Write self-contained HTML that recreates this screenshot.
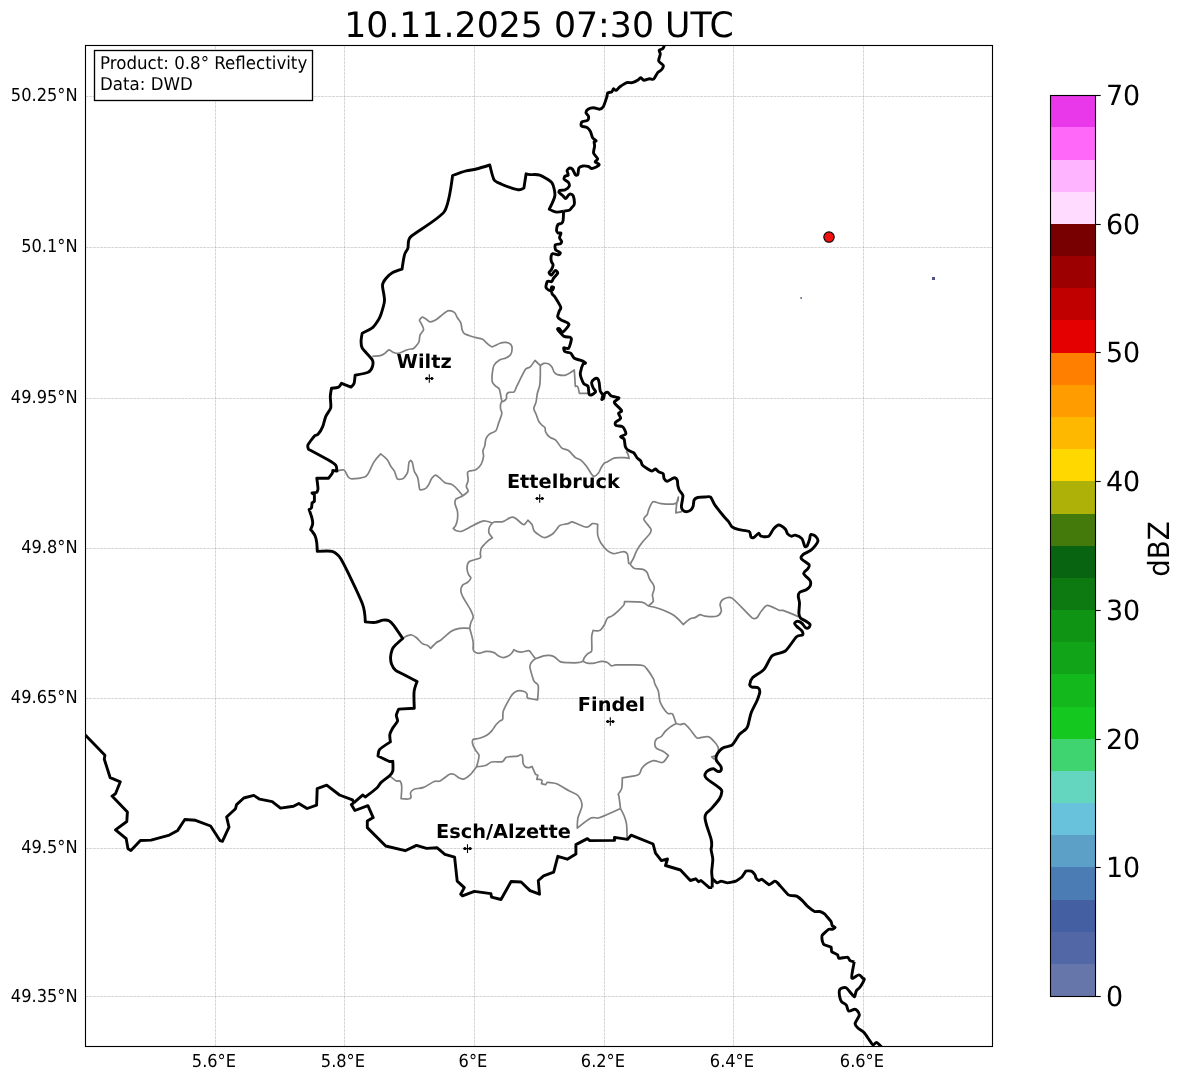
<!DOCTYPE html>
<html lang="en"><head><meta charset="utf-8"><title>10.11.2025 07:30 UTC - 0.8° Reflectivity</title>
<style>html,body{margin:0;padding:0;background:#fff}svg{display:block;will-change:transform}text{font-family:"DejaVu Sans","Liberation Sans",sans-serif;fill:#000;text-rendering:geometricPrecision}.tt{font-size:34.72px}.tk{font-size:16.67px}.cb{font-size:27.78px}.ct{font-size:19.44px;font-weight:bold}</style></head><body>
<svg width="1184" height="1081" viewBox="0 0 1184 1081">
<rect width="1184" height="1081" fill="#fff"/>
<defs><clipPath id="ax"><rect x="85.5" y="45.5" width="907.0" height="1001.0"/></clipPath></defs>
<g stroke="#808080" stroke-opacity="0.47" stroke-width="0.7" stroke-dasharray="2.88,0.8" fill="none">
<line x1="215.5" y1="1046.5" x2="215.5" y2="45.5"/>
<line x1="344.5" y1="1046.5" x2="344.5" y2="45.5"/>
<line x1="474.5" y1="1046.5" x2="474.5" y2="45.5"/>
<line x1="604.5" y1="1046.5" x2="604.5" y2="45.5"/>
<line x1="733.5" y1="1046.5" x2="733.5" y2="45.5"/>
<line x1="863.5" y1="1046.5" x2="863.5" y2="45.5"/>
<line x1="85.5" y1="96.5" x2="992.5" y2="96.5"/>
<line x1="85.5" y1="247.5" x2="992.5" y2="247.5"/>
<line x1="85.5" y1="398.5" x2="992.5" y2="398.5"/>
<line x1="85.5" y1="548.5" x2="992.5" y2="548.5"/>
<line x1="85.5" y1="698.5" x2="992.5" y2="698.5"/>
<line x1="85.5" y1="848.5" x2="992.5" y2="848.5"/>
<line x1="85.5" y1="996.5" x2="992.5" y2="996.5"/>
</g>
<g clip-path="url(#ax)" fill="none" stroke-linejoin="round" stroke-linecap="butt">
<path d="M372.3,356.3 C372.3,356.3 378.1,356.1 380.0,355.7 C381.9,355.3 383.3,354.3 384.7,353.4 C386.1,352.5 387.9,349.9 388.9,349.8 C389.9,349.7 391.5,351.6 393.0,352.2 C394.5,352.8 396.3,353.7 398.4,353.4 C400.5,353.1 404.9,350.6 407.3,349.8 C409.6,349.1 412.0,349.0 413.2,348.6 C414.2,348.2 414.6,347.6 415.3,346.8 C416.2,345.8 418.2,343.8 418.9,342.0 C419.6,340.2 419.4,336.8 420.1,334.9 C420.8,333.0 423.4,331.1 423.6,329.6 C423.8,328.1 422.0,325.2 421.3,323.7 C420.7,322.2 419.4,320.9 419.5,320.1 C419.6,319.3 421.6,317.3 422.4,317.2 C423.2,317.1 424.8,318.2 426.0,319.0 C427.2,319.8 428.9,321.8 430.1,321.9 C431.3,322.0 433.9,321.0 435.5,320.1 C437.1,319.2 438.8,317.5 440.8,316.0 C442.8,314.5 446.1,311.4 447.9,310.9 C449.7,310.4 453.1,311.5 454.4,312.4 C455.7,313.3 456.3,316.0 457.4,317.8 C458.5,319.6 460.2,321.3 460.9,323.1 C461.6,324.9 461.5,328.0 462.1,329.6 C462.7,331.2 462.9,332.8 464.5,333.8 C466.2,334.9 471.7,336.4 474.6,337.3 C477.5,338.2 480.2,338.0 482.2,339.1 C484.2,340.2 486.6,343.2 488.2,344.4 C489.7,345.6 490.8,347.0 492.3,346.8 C493.8,346.6 497.9,343.9 500.0,343.2 C502.1,342.5 504.3,342.2 505.9,342.4 C507.5,342.6 509.9,343.6 510.7,344.4 C511.5,345.2 512.1,347.1 512.1,348.6 C512.1,350.1 511.6,353.2 510.7,354.5 C509.8,355.8 507.5,357.2 505.9,358.0 C504.3,358.8 501.8,358.7 500.0,359.8 C498.2,360.9 495.2,363.2 494.1,365.1 C493.0,367.0 492.6,370.8 492.3,373.4 C492.0,376.0 491.9,379.9 492.3,381.7 C492.7,383.5 494.2,384.7 495.3,385.9 C496.4,387.1 498.6,387.6 499.4,389.4 C500.2,391.2 500.8,396.3 501.2,398.3 C501.4,399.5 501.9,400.4 501.8,401.3 C501.7,402.2 500.8,403.0 500.6,404.2 C500.4,405.4 500.4,407.5 500.6,409.0 C500.8,410.5 502.1,411.8 501.8,413.7 C501.5,415.8 499.5,420.6 498.5,423.4 C497.5,426.2 497.2,429.2 495.9,430.7 C494.6,432.2 490.9,433.0 489.4,434.2 C487.9,435.4 486.6,437.2 485.9,439.0 C485.2,440.8 485.2,444.2 484.7,446.1 C484.2,448.0 483.1,449.2 482.9,450.8 C482.7,452.4 483.8,454.6 483.5,456.7 C483.2,458.8 482.2,462.5 481.1,464.4 C480.0,466.3 477.4,468.8 475.8,469.7 C474.2,470.6 471.1,470.5 469.9,470.9 C468.8,471.3 467.7,471.5 467.5,472.7 C467.3,473.9 468.3,478.3 468.1,480.4 C467.9,482.5 466.3,484.8 466.3,486.3 C466.3,487.8 468.5,490.0 468.1,491.1 C467.7,492.2 464.2,494.8 462.8,495.8 C461.5,496.7 460.4,497.0 459.2,497.6 C458.0,498.2 456.2,498.6 455.7,499.4 C455.2,500.2 454.8,502.3 455.1,504.1 C455.4,505.9 457.0,508.8 457.4,511.2 C457.8,513.6 457.7,517.3 457.4,519.5 C457.1,521.7 456.3,524.1 455.7,525.4 C455.1,526.7 453.3,528.4 453.3,528.4 C453.3,528.4 455.1,530.3 456.3,530.7 C457.5,531.1 459.5,531.9 461.6,531.3 C463.7,530.7 468.0,528.2 471.1,526.6 C474.2,525.0 478.3,522.8 480.5,521.9 C482.3,521.2 483.5,520.8 485.3,521.0 C487.1,521.2 492.4,523.0 492.4,523.0" stroke="#808080" stroke-width="1.7"/>
<path d="M501.8,401.3 C501.8,401.3 503.0,401.7 503.6,401.3 C504.2,400.9 506.1,399.2 506.5,398.3 C506.9,397.4 506.2,395.6 506.5,394.8 C506.8,394.0 507.8,392.8 508.9,392.4 C510.0,392.0 513.2,392.6 514.2,391.8 C515.2,391.0 515.6,388.6 516.6,386.5 C518.5,382.8 523.6,372.1 525.5,369.3 C526.7,367.6 528.8,368.2 530.2,366.9 C531.6,365.6 535.0,360.4 535.0,360.4 C535.0,360.4 539.2,364.7 540.3,365.1 C541.4,365.5 542.6,363.6 543.8,363.4 C545.0,363.2 547.7,363.4 548.8,363.9 C549.9,364.4 551.0,365.7 551.9,367.0 C552.8,368.3 553.6,371.5 554.4,372.6 C555.2,373.7 556.1,374.3 557.5,374.6 C559.1,375.0 563.2,375.8 565.6,375.1 C568.0,374.4 574.3,370.0 574.3,370.0 L575.3,386.3 C575.3,386.3 577.3,385.9 577.8,386.8 C578.3,387.7 579.4,393.4 579.4,393.4 L588.5,393.4" stroke="#808080" stroke-width="1.7"/>
<path d="M540.3,365.1 C540.3,365.1 540.4,372.5 540.3,375.8 C540.2,379.1 540.2,382.5 539.7,385.3 C539.2,388.1 537.9,390.9 537.3,393.6 C536.7,396.3 536.7,399.5 536.1,401.9 C535.5,404.3 533.8,406.7 533.8,408.4 C533.8,410.1 535.3,412.2 536.1,414.3 C536.9,416.4 537.7,419.2 538.5,420.8 C539.3,422.4 540.5,423.6 541.5,424.7 C542.5,425.8 544.4,426.7 545.0,427.7 C545.6,428.7 544.9,430.4 545.6,431.8 C546.3,433.2 548.2,436.0 549.7,437.2 C551.2,438.4 553.9,438.5 555.7,440.1 C557.5,441.7 559.8,446.3 561.6,447.8 C563.4,449.3 566.5,449.2 568.1,450.2 C569.7,451.2 570.9,453.0 572.2,454.3 C573.5,455.6 574.4,457.0 575.8,457.9 C577.2,458.8 579.5,459.0 581.1,460.3 C582.7,461.6 584.8,463.9 586.5,466.2 C588.2,468.5 590.6,473.0 591.8,474.5 C592.5,475.5 593.4,476.4 594.2,476.3 C595.0,476.2 597.2,474.6 598.3,473.3 C599.4,472.0 600.3,469.0 601.3,467.4 C602.3,465.8 603.4,464.0 604.2,463.2 C605.0,462.4 606.0,462.5 607.1,461.9 C608.9,461.0 612.3,458.5 614.9,457.9 C617.5,457.3 622.1,457.6 624.4,457.7 C626.3,457.8 629.1,458.5 629.1,458.5 C629.1,458.5 628.4,454.9 627.9,453.8 C627.4,452.7 626.1,451.4 626.1,451.4" stroke="#808080" stroke-width="1.7"/>
<path d="M336.9,471.1 C336.9,471.1 342.6,469.4 344.0,470.1 C345.4,470.8 347.1,475.7 348.2,477.0 C349.2,478.2 350.1,478.8 351.7,478.8 C354.1,478.8 362.3,477.8 364.7,477.0 C366.6,476.4 367.2,475.1 368.3,473.4 C369.8,471.0 372.2,464.7 374.2,461.6 C376.2,458.5 380.7,453.9 380.7,453.9 C380.7,453.9 385.8,457.9 387.3,459.8 C388.8,461.7 389.7,464.5 390.8,466.3 C391.9,468.1 393.4,469.2 394.4,471.1 C395.4,473.0 396.3,477.9 397.3,478.8 C398.3,479.7 401.7,479.1 402.7,478.8 C403.7,478.5 404.0,477.8 404.7,476.9 C405.5,475.8 407.1,474.2 407.7,472.1 C408.3,470.0 408.5,464.3 408.9,462.6 C409.2,461.5 410.7,460.3 410.7,460.3 C410.7,460.3 412.0,461.5 412.4,462.6 C412.9,464.2 413.4,468.5 414.2,470.9 C415.0,473.3 417.0,475.2 417.8,478.0 C418.6,480.8 419.0,487.1 419.5,488.7 C419.7,489.5 420.4,490.0 421.3,489.9 C422.2,489.8 425.0,488.9 426.1,488.1 C427.2,487.3 428.1,485.6 429.0,484.0 C429.9,482.4 431.0,479.3 432.0,478.0 C433.0,476.7 434.7,475.2 435.5,475.1 C436.3,475.0 437.8,476.3 439.1,477.4 C440.6,478.6 443.3,481.8 445.0,482.8 C446.7,483.8 449.3,483.3 450.9,484.0 C452.5,484.7 454.0,485.8 455.7,487.5 C457.6,489.4 462.8,495.8 462.8,495.8" stroke="#808080" stroke-width="1.7"/>
<path d="M492.4,523.0 C492.4,523.0 493.8,522.0 494.8,521.9 C496.4,521.7 501.1,522.0 503.0,521.6 C504.9,521.2 506.4,519.6 507.8,518.9 C509.2,518.2 510.8,517.2 511.9,517.1 C513.0,517.0 514.2,517.5 515.5,518.3 C517.1,519.4 521.3,523.4 522.6,524.2 C523.4,524.7 524.3,524.6 525.0,524.0 C525.7,523.4 527.9,520.1 527.9,520.1 C527.9,520.1 531.1,523.1 532.1,524.8 C533.1,526.5 532.7,529.5 534.4,531.3 C536.1,533.1 541.5,537.1 543.8,537.5 C546.1,537.9 550.2,535.6 552.1,534.3 C554.0,533.0 555.6,530.5 556.9,529.0 C558.1,527.6 558.2,526.2 559.8,525.4 C561.4,524.6 566.1,524.2 568.1,523.6 C569.8,523.1 570.5,521.6 572.3,521.9 C574.8,522.4 583.8,527.0 586.5,527.2 C589.2,527.4 590.8,524.0 592.4,523.6 C594.0,523.2 597.7,524.2 597.7,524.2 C597.7,524.2 597.5,528.1 597.5,530.0 C597.5,531.9 597.4,533.9 597.9,535.9 C598.4,537.9 599.4,540.7 600.9,543.0 C602.4,545.3 605.5,549.1 607.4,550.7 C609.3,552.3 611.6,553.4 613.3,553.7 C615.0,554.0 617.4,552.8 619.2,552.5 C621.0,552.2 622.9,551.4 624.0,551.6 C625.1,551.8 626.9,552.7 627.5,554.3 C628.1,555.9 628.3,562.1 628.7,563.2 C628.9,563.9 630.5,563.5 630.5,563.5" stroke="#808080" stroke-width="1.7"/>
<path d="M630.5,563.5 C630.5,563.5 632.4,560.5 633.4,558.4 C634.5,556.2 635.5,552.7 637.0,550.1 C638.5,547.5 640.6,544.5 642.7,541.8 C644.8,539.1 648.7,535.5 649.9,533.6 C650.9,532.0 651.6,530.7 650.9,529.0 C650.1,527.1 644.2,521.2 643.8,519.4 C643.4,517.6 646.5,515.9 647.3,514.3 C648.1,512.7 648.0,511.2 648.9,509.2 C649.8,507.2 651.5,502.5 652.9,501.8 C654.3,501.1 657.8,503.2 661.1,503.6 C664.4,504.0 670.9,504.3 673.3,504.1 C675.1,503.9 676.7,503.0 677.4,502.1 C678.1,501.2 678.4,497.0 678.4,497.0 C678.4,497.0 677.2,500.6 676.8,503.1 C676.4,505.6 675.8,512.8 675.8,512.8 L682.0,511.7" stroke="#808080" stroke-width="1.7"/>
<path d="M630.5,563.5 C630.5,563.5 630.6,564.9 631.1,565.5 C631.7,566.2 632.9,567.9 634.6,568.5 C636.3,569.1 641.1,568.8 642.9,569.4 C644.7,570.0 646.2,571.3 647.1,572.6 C648.0,573.9 648.4,576.6 649.4,578.6 C650.4,580.6 652.9,583.5 653.6,585.1 C654.3,586.6 654.4,587.7 654.2,589.2 C654.0,590.7 652.5,593.3 652.4,595.1 C652.3,596.9 653.8,599.7 653.3,601.1 C652.8,602.5 648.2,606.0 648.2,606.0" stroke="#808080" stroke-width="1.7"/>
<path d="M648.2,606.0 C648.2,606.0 655.4,607.3 659.5,608.8 C663.6,610.3 670.1,612.9 673.7,615.3 C677.3,617.7 683.2,624.5 683.2,624.5 C683.2,624.5 688.5,619.8 690.3,618.8 C692.0,617.8 693.5,618.2 695.0,617.6 C696.5,617.0 698.7,614.9 700.0,614.7 C701.3,614.5 702.7,615.9 704.7,616.1 C707.3,616.4 714.4,616.9 716.6,616.3 C718.8,615.7 720.8,612.9 721.3,611.3 C721.8,609.7 719.8,605.9 720.1,604.2 C720.4,602.5 722.1,599.7 723.7,598.9 C725.3,598.1 729.2,596.3 732.0,598.1 C735.8,600.6 748.7,615.1 752.1,617.8 C753.6,619.0 755.7,618.7 756.9,617.8 C758.1,616.9 759.9,612.6 761.6,610.7 C763.3,608.8 765.3,605.4 767.5,605.4 C769.7,605.4 777.1,609.6 779.4,610.4 C780.7,610.8 781.6,610.0 782.9,610.4 C785.8,611.3 798.3,616.6 798.3,616.6" stroke="#808080" stroke-width="1.7"/>
<path d="M648.2,606.0 C648.2,606.0 644.7,602.7 641.7,602.2 C638.2,601.6 624.5,601.7 624.5,601.7 C624.5,601.7 624.7,603.6 624.0,604.6 C623.1,606.0 619.9,609.3 618.0,611.1 C616.1,612.9 613.8,614.8 612.1,615.9 C610.4,617.0 608.5,617.0 607.4,618.2 C606.3,619.4 605.5,622.8 604.4,624.7 C603.3,626.6 601.5,629.2 600.3,630.1 C599.1,631.0 597.2,630.9 596.1,630.9 C595.0,630.9 593.2,630.3 593.2,630.3 C593.2,630.3 591.9,634.0 591.7,636.6 C591.5,639.8 592.2,648.6 591.7,650.8 C591.3,652.7 589.0,652.5 587.8,653.6 C586.6,654.7 585.0,656.6 584.3,657.8 C583.6,659.0 583.1,661.3 583.1,661.3" stroke="#808080" stroke-width="1.7"/>
<path d="M492.4,523.0 C492.4,523.0 489.9,525.8 489.4,527.2 C488.9,528.6 488.4,531.0 488.8,532.5 C489.2,534.0 492.4,537.8 492.4,537.8 C492.4,537.8 488.6,540.2 486.9,541.8 C485.2,543.4 482.5,546.1 481.5,547.8 C480.5,549.5 480.5,552.1 480.3,553.7 C480.1,555.3 481.6,556.8 480.3,557.8 C479.0,558.8 470.9,560.4 469.1,561.7 C467.3,563.0 467.1,566.1 467.0,567.9 C466.9,569.7 467.9,572.9 468.5,574.4 C469.1,575.9 471.0,577.1 470.9,578.0 C470.8,578.9 469.1,581.0 467.9,582.1 C466.7,583.2 463.6,583.9 462.6,585.1 C461.6,586.3 460.8,588.8 460.8,590.4 C460.8,592.0 461.5,594.1 462.6,596.3 C464.1,599.3 468.6,606.1 470.3,609.4 C471.8,612.3 473.1,615.3 473.2,617.1 C473.3,618.9 471.5,620.6 470.9,622.4 C470.3,624.2 469.7,628.3 469.7,628.3" stroke="#808080" stroke-width="1.7"/>
<path d="M469.7,628.3 C469.7,628.3 467.1,628.1 465.5,628.1 C463.9,628.1 462.3,627.8 460.2,628.3 C458.0,628.8 454.3,629.5 451.3,631.3 C448.3,633.1 443.1,638.4 440.7,640.2 C439.2,641.4 438.0,641.3 436.5,642.5 C434.9,643.8 430.7,648.4 430.7,648.4 C430.7,648.4 428.9,646.1 427.7,645.4 C426.5,644.7 424.1,644.7 422.4,643.6 C420.7,642.5 418.2,639.0 416.5,637.7 C414.8,636.4 413.0,635.3 411.7,635.0 C410.4,634.7 408.4,635.4 407.0,635.9 C405.6,636.4 402.8,638.5 402.8,638.5" stroke="#808080" stroke-width="1.7"/>
<path d="M469.7,628.3 C469.7,628.3 471.4,634.3 472.0,636.6 C472.6,638.9 473.0,640.4 473.2,642.5 C473.4,644.6 472.9,648.2 473.2,649.6 C473.5,651.0 474.7,652.1 475.6,652.6 C476.5,653.1 478.1,653.4 479.7,653.2 C481.3,653.0 484.1,651.5 486.3,651.4 C488.5,651.3 492.2,651.9 494.0,652.6 C495.8,653.3 497.2,655.3 498.7,656.1 C500.2,656.9 502.1,657.7 503.4,657.7 C504.7,657.7 506.9,656.8 508.2,656.1 C509.5,655.4 510.8,654.2 511.7,653.2 C512.6,652.2 513.9,649.6 513.9,649.6 C513.9,649.6 515.8,651.0 517.1,651.4 C518.4,651.8 520.6,652.1 522.4,652.0 C524.2,651.9 527.6,650.2 528.9,650.6 C530.2,651.0 531.9,654.2 533.0,655.5 C534.1,656.7 534.6,658.4 535.9,658.4 C537.2,658.4 541.5,656.3 543.6,655.8 C545.7,655.3 547.9,655.2 549.5,655.4 C551.1,655.6 552.5,655.8 554.2,656.8 C555.9,657.8 558.6,661.0 560.7,661.9 C562.8,662.8 565.6,662.6 568.4,662.7 C571.2,662.8 575.6,662.9 577.9,662.7 C580.0,662.5 583.1,661.3 583.1,661.3" stroke="#808080" stroke-width="1.7"/>
<path d="M583.1,661.3 C583.1,661.3 585.5,662.8 587.2,663.1 C588.9,663.4 592.1,663.4 594.3,663.1 C596.5,662.8 599.5,661.4 601.5,661.3 C603.5,661.2 605.9,661.8 607.4,662.5 C608.9,663.2 610.4,665.5 611.5,665.8 C612.6,666.1 614.0,665.0 615.7,664.9 C619.2,664.8 628.9,664.8 633.4,664.9 C637.2,665.0 641.0,665.0 642.9,665.5 C644.7,666.0 645.4,666.9 646.5,668.4 C648.2,670.5 652.3,676.7 653.6,679.1 C654.5,680.8 654.1,682.0 654.8,683.8 C655.5,685.7 657.6,688.5 658.3,690.9 C659.0,693.3 659.1,697.2 659.5,699.2 C659.8,700.9 659.9,701.8 660.7,703.4 C661.6,705.3 664.2,709.5 665.4,711.1 C666.4,712.4 667.4,713.3 668.4,713.7 C669.4,714.1 671.6,712.8 672.5,714.0 C673.4,715.2 676.1,723.5 676.1,723.5" stroke="#808080" stroke-width="1.7"/>
<path d="M676.1,723.5 C676.1,723.5 679.1,724.6 680.3,724.6 C681.5,724.6 683.2,723.1 684.4,723.7 C685.6,724.3 687.7,726.7 689.7,729.0 C691.7,731.3 695.4,736.8 696.9,737.9 C698.4,739.0 699.7,737.5 701.6,737.3 C703.5,737.1 706.9,736.3 708.7,736.9 C710.5,737.5 713.1,740.4 714.6,742.0 C716.1,743.6 717.7,746.0 718.2,747.4 C718.7,748.8 718.2,752.0 718.2,752.0" stroke="#808080" stroke-width="1.7"/>
<path d="M676.1,723.5 C676.1,723.5 671.8,725.9 670.1,727.1 C668.4,728.3 666.8,729.7 665.4,731.2 C664.0,732.7 662.6,735.3 661.3,736.5 C660.0,737.7 657.4,737.9 656.5,738.9 C655.6,739.9 654.8,742.9 654.8,744.2 C654.8,745.5 655.4,747.4 656.5,748.4 C657.6,749.4 661.1,750.2 663.0,751.3 C664.9,752.4 668.4,755.5 668.4,755.5 C668.4,755.5 665.2,760.4 664.2,761.4 C663.3,762.3 662.6,762.7 661.3,762.6 C659.8,762.5 655.7,760.4 653.6,760.6 C651.5,760.8 648.3,762.6 646.5,763.8 C644.7,765.0 643.2,766.6 641.9,768.3 C640.6,770.0 640.9,773.5 638.3,774.8 C635.7,776.1 622.3,777.8 622.3,777.8 C622.3,777.8 622.3,786.0 621.7,788.4 C621.1,790.8 618.6,793.4 618.2,794.3 C618.0,794.8 618.7,795.0 618.8,795.5 C619.2,797.7 620.5,808.6 620.5,808.6" stroke="#808080" stroke-width="1.7"/>
<path d="M620.5,808.6 C620.5,808.6 623.1,813.2 624.1,815.7 C625.1,818.2 626.0,820.6 626.5,824.0 C627.0,827.6 627.1,838.5 627.1,838.5" stroke="#808080" stroke-width="1.7"/>
<path d="M620.5,808.6 C620.5,808.6 603.7,816.4 599.2,817.8 C596.0,818.8 593.9,816.6 590.9,818.0 C587.8,819.5 577.3,828.1 577.3,828.1 C577.3,828.1 577.2,821.5 577.9,818.0 C578.6,814.5 582.0,808.7 582.0,805.6 C582.0,802.5 579.7,797.6 577.9,795.5 C576.1,793.4 572.3,792.6 569.0,790.8 C565.7,789.0 560.3,785.5 557.8,784.3 C556.1,783.5 555.0,783.3 553.3,783.0 C551.6,782.7 548.4,782.2 547.4,782.4 C546.4,782.6 546.3,784.6 545.6,784.7 C544.9,784.8 541.5,783.6 541.5,783.6 C541.5,783.6 542.2,781.1 542.0,780.6 C541.8,780.1 540.5,779.6 539.7,779.4 C538.9,779.2 536.7,779.4 536.7,779.4 L537.9,775.3 C537.9,775.3 536.1,774.8 535.5,774.1 C534.9,773.4 534.4,771.8 533.8,770.5 C533.2,769.2 532.0,766.4 532.0,766.4 C532.0,766.4 529.9,767.5 529.0,767.6 C528.1,767.7 526.3,767.6 525.5,767.0 C524.7,766.4 523.5,765.0 523.1,763.4 C522.7,761.8 522.8,757.5 522.5,756.3 C522.2,755.3 521.3,754.5 520.7,754.5 C520.1,754.5 519.1,755.8 517.8,756.1 C516.5,756.4 513.8,756.4 511.8,756.6 C509.8,756.8 507.2,756.8 505.9,757.5 C504.6,758.2 504.3,761.0 502.4,761.6 C500.5,762.2 494.0,761.4 491.5,762.0 C489.0,762.6 487.8,764.8 485.5,765.5 C483.2,766.2 476.6,766.7 476.6,766.7 C476.6,766.7 479.2,757.8 479.0,755.5 C478.8,753.2 476.5,751.9 475.5,750.1 C474.5,748.3 473.1,745.8 472.7,744.2 C472.3,742.6 472.3,740.2 473.1,739.5 C473.9,738.8 477.4,739.0 479.6,738.3 C481.8,737.6 484.8,736.5 486.7,735.3 C488.6,734.1 490.6,732.2 492.0,730.6 C493.4,729.0 494.4,726.8 495.6,725.3 C496.8,723.8 498.6,722.0 499.7,721.1 C500.8,720.2 502.2,720.6 502.7,719.3 C503.2,718.0 502.4,714.0 503.3,711.1 C504.2,708.2 507.1,703.2 508.6,700.4 C510.1,697.7 511.5,695.3 512.8,693.9 C514.1,692.5 516.0,691.3 517.5,690.9 C519.0,690.5 522.0,690.8 523.4,691.2 C524.8,691.6 526.4,693.0 527.0,693.9 C527.6,694.8 526.3,697.3 527.6,698.0 C528.9,698.7 537.6,699.8 537.6,699.8 C537.6,699.8 538.7,688.1 538.2,685.6 C537.8,683.3 535.1,683.1 534.1,681.4 C533.1,679.7 532.4,676.7 531.7,674.3 C531.0,671.9 529.9,668.4 529.9,666.6 C529.9,664.8 530.8,663.1 531.7,661.9 C532.6,660.7 535.9,658.4 535.9,658.4" stroke="#808080" stroke-width="1.7"/>
<path d="M389.8,776.1 C389.8,776.1 394.9,780.2 396.3,780.9 C397.6,781.5 399.3,780.3 399.9,780.9 C400.5,781.5 401.5,784.0 401.7,786.2 C401.9,788.9 401.1,798.6 401.1,798.6 C401.1,798.6 406.7,799.2 408.2,799.0 C409.5,798.8 410.8,798.2 411.1,797.4 C411.4,796.6 410.1,793.8 410.5,792.7 C410.9,791.6 412.2,790.0 414.1,789.2 C416.0,788.4 420.5,788.6 423.6,787.4 C426.7,786.2 431.7,782.5 434.2,781.5 C436.4,780.6 438.0,781.9 440.1,780.9 C442.4,779.8 447.6,775.2 449.6,774.3 C451.1,773.6 452.4,773.8 453.8,774.3 C455.2,774.8 457.6,777.2 459.1,777.9 C460.6,778.6 462.3,779.5 463.8,779.1 C465.3,778.7 468.0,776.8 470.0,774.9 C472.0,773.0 476.6,766.7 476.6,766.7" stroke="#808080" stroke-width="1.7"/>
<path d="M716.4,755.7 L711.7,756.8 L714.5,759.5" stroke="#808080" stroke-width="1.7"/>
<path d="M563.6,211.2 C563.6,211.2 558.3,212.3 556.5,212.1 C554.7,211.9 549.3,209.2 549.3,209.2 C549.3,209.2 554.6,198.6 554.9,195.5 C555.2,192.4 553.5,184.9 551.9,182.7 C550.3,180.5 542.4,176.1 539.7,175.1 C537.0,174.1 531.9,174.8 530.0,174.6 C528.4,174.4 526.1,173.8 526.1,173.8 L523.9,188.1 C523.9,188.1 520.8,189.8 519.4,189.8 C518.0,189.8 514.3,188.9 511.8,188.1 C509.3,187.3 504.1,185.4 501.6,184.2 C499.1,183.0 495.3,181.8 494.0,179.7 C492.7,177.6 489.8,165.0 489.8,165.0 C489.8,165.0 479.7,168.1 476.3,169.0 C472.9,169.9 469.5,170.0 466.1,170.9 C462.7,171.8 452.6,175.5 452.6,175.5 C452.6,175.5 448.9,204.9 444.2,211.8 C439.5,218.7 414.5,233.0 410.4,237.1 C407.2,240.3 408.7,245.7 407.9,248.1 C407.1,250.5 405.3,252.0 404.5,254.8 C403.7,257.6 402.0,269.2 402.0,269.2 C402.0,269.2 394.8,271.4 392.7,272.6 C390.6,273.8 387.2,276.9 385.9,278.5 C384.6,280.1 382.7,282.6 382.5,285.2 C382.3,287.8 384.7,296.8 384.5,300.5 C384.3,304.2 382.1,310.9 381.2,313.7 C380.3,316.4 379.4,318.3 378.2,320.2 C377.0,322.1 374.9,325.6 372.9,327.3 C370.9,329.0 362.2,333.2 362.2,333.2 C362.2,333.2 361.1,338.9 361.1,340.9 C361.1,342.9 360.9,345.7 362.2,348.0 C363.5,350.3 371.2,357.8 372.3,359.9 C373.4,362.0 372.8,365.6 372.3,367.0 C371.8,368.4 370.1,371.4 368.2,372.3 C366.3,373.2 355.1,375.3 355.1,375.3 C355.1,375.3 354.5,382.2 354.0,383.6 C353.5,385.0 351.0,387.1 351.0,387.1 L341.5,383.3 C341.5,383.3 339.7,386.6 338.6,387.1 C337.5,387.6 331.5,388.3 331.5,388.3 C331.5,388.3 330.4,393.9 330.3,396.6 C330.2,399.3 331.3,405.4 330.7,407.8 C330.1,410.2 326.8,414.0 325.7,416.6 C324.6,419.2 323.7,424.2 322.7,426.6 C321.7,429.0 319.0,433.2 318.0,434.3 C317.0,435.4 315.5,434.9 314.4,436.1 C313.1,437.4 308.5,443.6 307.9,445.0 C307.3,446.4 308.5,449.2 308.5,449.2 C308.5,449.2 324.1,457.5 328.0,459.8 C331.2,461.7 334.7,463.9 335.7,465.1 C336.7,466.3 336.9,471.1 336.9,471.1 L332.8,470.5 C332.8,470.5 332.7,472.4 332.2,473.4 C331.7,474.4 328.6,478.2 328.6,478.2 L316.8,478.2 C316.8,478.2 318.0,487.0 318.0,488.8 C318.0,490.3 316.8,492.4 316.8,492.4 L312.0,493.0 L314.4,494.7 L314.4,501.3 L312.0,503.0 C312.0,503.0 311.8,507.1 311.5,507.8 C311.2,508.5 309.1,509.6 309.1,509.6 C309.1,509.6 311.5,516.4 312.0,518.4 C312.5,520.4 312.8,522.9 312.6,524.3 C312.4,525.7 310.6,529.5 310.6,529.5 C310.6,529.5 314.1,533.7 314.9,535.4 C315.7,537.1 316.4,540.3 316.7,542.5 C317.0,544.7 317.3,551.4 317.3,551.4 C317.3,551.4 329.5,550.5 332.1,551.4 C334.7,552.3 338.6,555.0 341.0,559.1 C344.9,565.8 359.0,595.0 362.3,603.5 C365.0,610.5 365.3,621.9 365.3,621.9 C365.3,621.9 373.0,622.6 375.3,622.4 C377.6,622.2 381.2,620.3 383.0,620.1 C384.8,619.9 387.8,620.1 389.0,620.7 C390.2,621.3 392.1,623.3 393.7,625.4 C395.6,627.9 402.7,638.5 402.7,638.5 C402.7,638.5 397.2,643.3 395.7,644.8 C394.2,646.3 392.8,647.9 392.2,649.5 C391.6,651.1 390.7,655.3 390.6,657.2 C390.5,659.1 391.0,662.7 391.6,664.3 C392.2,665.9 394.1,669.0 395.7,670.3 C397.3,671.6 401.4,673.3 404.6,675.0 C407.8,676.7 417.1,681.5 417.1,681.5 C417.1,681.5 414.5,688.0 414.1,691.6 C413.7,695.2 414.3,708.2 414.3,708.2 L398.7,709.1 C398.7,709.1 396.4,713.9 396.3,715.3 C396.2,716.7 397.9,719.7 397.5,721.2 C397.1,722.7 393.3,727.0 392.2,728.9 C391.1,730.8 390.0,733.2 389.8,734.8 C389.6,736.4 390.4,741.9 390.4,741.9 C390.4,741.9 381.1,747.8 379.7,749.4 C378.3,751.0 378.0,756.0 378.0,756.0 C378.0,756.0 387.3,760.6 389.2,761.3 C390.6,761.8 392.8,761.3 392.8,761.3 C392.8,761.3 393.2,769.1 392.8,770.8 C392.4,772.5 391.4,773.9 389.8,775.5 C388.2,777.1 382.7,780.9 380.9,782.6 C379.1,784.3 378.8,786.2 376.8,788.0 C374.7,789.9 365.5,796.9 365.5,796.9 L362.6,795.1 L353.7,802.8" stroke="#000" stroke-width="2.9"/>
<path d="M353.7,802.8 L351.3,804.6 L354.9,810.5 L367.9,805.7 L373.2,817.6 L367.3,821.1 L367.3,827.6 L385.7,846.0 L405.2,850.7 L416.5,845.4 L426.5,848.4 L437.2,847.8 L444.9,854.3 L454.6,857.1 L457.2,881.1 L464.3,887.6 L460.7,894.2 L462.5,895.9 L474.3,891.4 L490.9,893.6 L491.5,897.1 L501.0,899.5 L511.1,881.5 L521.1,882.0 L530.0,890.6 L539.5,894.2 L538.3,880.5 L543.6,875.8 L553.7,872.2 L557.8,856.3 L567.3,859.2 L575.9,854.0 L575.9,844.6 L587.4,838.6 L589.8,840.6 L614.5,840.4 L614.5,837.4 L627.5,839.4 L631.1,835.2 L653.1,844.0 L655.5,853.1 L661.4,860.6 L667.5,859.0 L665.5,865.5 L680.5,870.0 L690.3,880.5 L695.7,878.8 L698.6,881.7 L701.0,880.5 L709.3,887.6 L712.2,887.6" stroke="#000" stroke-width="2.9"/>
<path d="M563.6,211.2 C563.5,212.4 563.4,218.8 563.1,220.4 C562.8,222.0 562.3,222.9 561.6,223.4 C560.9,223.9 558.7,223.6 558.0,224.5 C557.3,225.4 556.5,229.0 556.5,230.1 C556.5,231.2 557.4,232.7 558.0,233.1 C558.6,233.5 560.8,232.5 561.0,233.1 C561.2,233.7 559.4,236.6 559.5,237.7 C559.6,238.8 561.5,240.5 561.6,241.3 C561.7,242.1 561.3,243.3 560.5,243.8 C559.7,244.3 556.1,244.0 555.4,244.8 C554.7,245.6 555.0,248.6 555.6,249.7 C556.2,250.8 559.8,252.0 560.2,252.7 C560.6,253.4 559.7,254.7 558.7,254.8 C557.7,254.9 553.6,253.4 552.6,253.7 C551.6,254.0 551.1,256.2 551.0,257.3 C550.9,258.4 551.2,260.9 551.5,261.9 C551.8,262.9 553.1,263.9 553.1,264.9 C553.1,265.9 552.0,268.5 551.5,269.5 C551.0,270.5 549.0,271.9 549.0,272.6 C549.0,273.3 550.7,275.4 551.5,275.1 C552.3,274.8 554.3,270.8 555.1,270.5 C555.9,270.2 557.9,272.1 557.7,273.1 C557.5,274.1 554.4,277.1 553.6,278.2 C552.8,279.3 552.3,281.3 551.5,281.7 C550.7,282.1 548.2,280.5 547.5,281.2 C546.8,281.9 545.7,286.1 546.0,287.3 C546.3,288.5 548.6,290.1 549.5,290.4 C550.4,290.7 552.1,290.3 552.6,289.9 C553.1,289.5 553.7,287.6 553.6,287.3 C553.5,287.0 551.7,286.4 551.5,287.3 C551.3,288.2 551.7,292.7 552.1,293.9 C552.5,295.1 553.5,294.7 554.6,296.5 C555.7,298.3 560.1,305.2 560.7,307.2 C561.3,309.2 559.6,309.9 559.2,311.2 C558.8,312.5 557.4,315.6 557.7,316.8 C558.0,318.0 560.0,319.2 561.2,319.9 C562.4,320.6 565.8,321.7 566.8,322.4 C567.8,323.1 569.4,323.7 568.9,325.0 C568.4,326.3 564.0,331.6 562.7,332.1 C561.4,332.6 559.9,328.8 559.2,328.5 C558.5,328.2 557.1,328.5 557.7,329.5 C558.3,330.5 562.2,335.2 563.8,336.2 C565.4,337.2 568.9,336.8 569.9,337.2 C570.9,337.6 571.6,337.7 571.4,339.2 C571.2,340.7 569.7,347.1 568.7,348.2 C567.7,349.3 564.3,347.3 563.8,347.8 C563.3,348.3 564.2,351.0 565.1,351.7 C566.0,352.4 569.5,352.3 570.7,353.2 C571.9,354.1 572.9,357.3 574.3,358.3 C575.7,359.3 579.4,359.8 580.9,360.4 C582.4,361.0 585.2,362.4 585.5,362.9 C585.8,363.4 583.6,363.1 582.9,364.4 C582.2,365.7 580.7,370.9 580.4,372.6 C580.1,374.3 580.4,375.6 580.9,377.1 C581.4,378.6 583.0,382.6 583.9,383.8 C584.8,385.0 587.3,385.0 588.0,386.3 C588.7,387.6 588.6,392.7 589.0,393.9 C589.4,395.1 590.2,395.3 591.1,395.0 C592.0,394.7 595.3,392.9 595.6,391.9 C595.9,390.9 593.6,389.0 593.1,387.8 C592.6,386.6 591.5,383.8 591.6,382.7 C591.7,381.6 593.3,379.7 594.1,379.2 C594.9,378.7 597.0,378.2 597.7,378.7 C598.4,379.2 598.9,381.1 599.2,382.7 C599.5,384.3 599.7,389.3 600.2,390.9 C600.7,392.5 602.6,393.9 602.8,395.0 C603.0,396.1 601.6,399.1 601.7,399.5 C601.8,399.9 603.3,398.8 603.7,398.0 C604.1,397.2 604.2,394.1 604.8,393.4 C605.4,392.7 607.0,392.1 607.9,392.4 C608.8,392.7 609.9,395.3 611.4,396.0 C612.9,396.7 618.6,397.3 619.0,398.0 C619.4,398.7 615.0,400.9 614.5,401.6 C614.0,402.3 614.1,402.4 615.0,403.6 C615.9,404.8 621.1,409.4 621.6,410.7 C622.1,412.0 618.6,412.3 618.5,413.3 C618.4,414.3 621.0,417.2 620.6,418.4 C620.2,419.6 616.1,421.5 615.5,422.4 C614.9,423.3 615.1,425.0 616.0,425.5 C616.9,426.0 621.0,426.0 622.1,426.5 C623.2,427.0 624.1,428.6 624.6,429.6 C625.1,430.6 626.2,433.2 625.7,434.1 C625.2,435.0 620.8,436.0 620.6,436.7 C620.4,437.4 623.5,437.9 624.1,439.2 C624.7,440.5 624.8,445.0 625.3,446.5 C625.8,448.0 626.9,449.4 628.0,450.2 C629.1,451.0 632.4,451.7 633.6,452.7 C634.8,453.7 636.2,456.7 637.1,457.8 C638.0,458.9 640.0,460.0 640.7,460.9 C641.4,461.8 641.5,464.0 642.2,464.9 C642.9,465.8 645.0,467.2 646.3,468.0 C647.6,468.8 650.7,470.9 651.9,471.0 C653.1,471.1 654.6,468.9 655.5,469.0 C656.4,469.1 658.0,471.5 659.0,472.1 C660.0,472.7 662.4,472.7 663.1,473.6 C663.8,474.5 663.6,477.7 664.1,478.7 C664.6,479.7 666.3,481.1 667.2,481.2 C668.1,481.3 670.2,479.7 671.2,479.2 C672.2,478.7 674.0,477.6 674.8,477.7 C675.6,477.8 676.9,479.1 677.3,480.2 C677.7,481.3 677.6,484.4 677.9,485.8 C678.2,487.2 678.7,489.1 679.4,490.4 C680.1,491.7 682.6,493.4 682.9,495.5 C683.2,497.6 681.4,504.2 681.4,506.2 C681.4,508.2 682.2,509.5 682.9,510.2 C683.6,510.9 685.5,511.7 686.5,511.7 C687.5,511.7 689.7,510.9 690.6,510.2 C691.5,509.5 692.6,507.6 693.1,506.2 C693.6,504.8 693.5,501.2 694.1,500.0 C694.7,498.8 696.3,497.9 697.7,497.5 C699.1,497.1 703.1,497.0 704.8,497.0 C706.5,497.0 709.3,496.1 710.6,497.2 C711.9,498.3 713.1,502.5 714.8,504.9 C716.5,507.3 721.3,513.3 723.1,515.5 C724.9,517.7 727.2,519.9 728.4,521.4 C729.6,522.9 730.6,525.7 732.0,526.8 C733.4,527.9 736.8,529.1 739.1,529.7 C741.4,530.3 747.6,530.6 749.2,531.5 C750.8,532.4 750.3,536.0 750.9,536.8 C751.5,537.6 752.9,537.9 753.9,537.4 C754.9,536.9 757.7,533.5 758.6,533.3 C759.5,533.1 759.7,535.8 761.0,536.2 C762.3,536.6 767.0,537.1 768.7,536.2 C770.4,535.3 772.1,530.6 773.4,529.1 C774.7,527.6 777.2,525.0 778.8,525.0 C780.4,525.0 784.1,527.9 785.3,529.1 C786.5,530.3 786.8,533.0 787.6,533.9 C788.4,534.8 790.2,536.0 791.2,536.2 C792.2,536.4 793.9,534.8 795.3,535.1 C796.7,535.4 800.6,537.1 801.9,538.6 C803.2,540.1 804.1,545.4 804.8,546.3 C805.5,547.2 806.6,546.6 807.2,545.7 C807.8,544.8 809.1,540.7 809.6,539.2 C810.1,537.7 809.9,534.9 810.7,534.5 C811.5,534.1 814.6,535.3 815.5,536.2 C816.4,537.1 818.4,539.8 817.8,541.6 C817.2,543.4 813.3,548.2 811.3,549.9 C809.3,551.6 804.3,553.4 803.0,554.6 C801.7,555.8 800.5,557.4 801.3,558.7 C802.1,560.0 808.1,563.4 809.0,564.7 C809.9,566.0 808.5,567.6 807.8,568.8 C807.1,570.0 803.3,571.9 803.6,573.5 C803.9,575.1 809.2,578.9 810.1,580.6 C811.0,582.3 810.6,584.8 810.1,586.0 C809.6,587.2 808.0,588.6 806.6,589.5 C805.2,590.4 800.6,591.6 799.5,592.5 C798.4,593.4 798.3,595.2 798.3,596.6 C798.3,598.0 799.4,600.7 799.5,603.0 C799.6,605.3 798.7,611.7 798.9,613.7 C799.1,615.7 799.8,617.2 800.7,618.2 C801.6,619.2 804.8,620.4 806.0,621.2 C807.2,622.0 809.6,623.4 810.0,624.3 C810.4,625.2 809.3,627.1 808.7,627.6 C808.1,628.1 806.5,628.3 805.6,627.8 C804.7,627.3 803.1,624.4 802.3,623.6 C801.5,622.8 800.1,621.9 799.3,621.6 C798.5,621.3 797.0,621.2 796.4,621.5 C795.8,621.8 794.5,622.9 794.6,623.6 C794.7,624.3 796.0,625.6 797.0,626.6 C798.0,627.6 801.2,629.8 801.9,630.9 C802.6,632.0 803.2,634.2 802.5,635.0 C801.8,635.8 798.8,634.7 796.5,636.8 C794.2,638.9 788.5,648.5 785.3,651.0 C782.1,653.5 775.1,653.2 772.3,655.7 C769.5,658.2 766.6,666.5 764.0,669.4 C761.4,672.3 754.6,675.6 752.7,677.6 C750.8,679.6 749.8,683.4 749.7,684.7 C749.6,686.0 751.0,686.7 752.1,687.1 C753.2,687.5 757.0,687.1 758.0,687.7 C759.0,688.3 759.9,690.3 759.8,691.9 C759.7,693.5 758.4,697.2 757.3,700.0 C756.2,702.8 752.5,709.3 751.2,712.8 C749.9,716.3 748.6,723.9 747.8,726.1 C747.0,728.3 746.5,728.5 745.4,729.6 C744.3,730.7 740.9,732.7 739.5,734.3 C738.1,735.9 735.9,740.0 734.8,741.5 C733.7,743.0 732.6,744.8 731.2,745.6 C729.8,746.4 725.7,746.7 724.1,747.4 C722.5,748.1 720.4,749.8 719.4,750.9 C718.4,752.0 716.8,754.4 716.4,755.7 C716.0,757.0 715.8,758.9 716.4,760.4 C717.0,761.9 720.6,765.5 721.1,766.9 C721.6,768.3 721.0,770.5 720.5,771.1 C720.0,771.7 717.9,771.4 717.0,771.1 C716.1,770.8 714.6,768.8 713.4,768.7 C712.2,768.6 709.2,769.8 708.1,770.5 C707.0,771.2 705.3,773.0 705.1,774.0 C704.9,775.0 704.2,776.2 706.3,778.2 C708.4,780.2 718.4,786.9 720.5,788.8 C722.6,790.7 721.8,791.1 721.7,792.4 C721.6,793.7 720.8,796.7 719.4,798.9 C718.0,801.1 713.1,806.7 711.4,808.6 C709.7,810.5 707.2,812.1 706.3,813.3 C705.4,814.5 705.0,816.0 705.0,817.5 C705.0,819.0 705.6,821.6 706.4,824.5 C707.2,827.4 710.4,836.3 711.1,839.1 C711.8,841.9 711.7,844.2 711.7,845.6 C711.7,847.0 711.0,847.9 711.1,849.7 C711.2,851.5 712.7,856.3 712.8,859.2 C712.9,862.1 711.8,868.6 711.7,871.1 C711.6,873.6 712.1,876.0 712.2,878.2 C712.3,880.4 712.2,886.3 712.2,887.6" stroke="#000" stroke-width="2.9"/>
<path d="M563.6,211.2 C564.3,211.1 568.1,210.7 569.2,210.2 C570.3,209.7 571.0,208.5 571.7,207.7 C572.4,206.9 574.1,205.7 574.3,204.1 C574.5,202.5 573.8,197.4 573.3,196.0 C572.8,194.6 570.9,194.0 570.2,193.9 C569.5,193.8 568.8,194.9 568.2,195.5 C567.6,196.1 566.3,198.5 565.6,198.5 C564.9,198.5 563.5,196.3 562.6,195.5 C561.7,194.7 559.3,193.1 559.0,192.4 C558.7,191.7 559.2,190.7 560.0,190.4 C560.8,190.1 563.9,190.4 565.1,189.9 C566.3,189.4 568.8,187.3 569.2,186.3 C569.6,185.3 568.9,183.1 568.2,182.2 C567.5,181.3 564.5,180.0 564.1,179.2 C563.7,178.4 564.6,176.6 565.1,176.1 C565.6,175.6 567.9,175.8 568.2,175.1 C568.5,174.4 566.9,171.4 567.1,170.5 C567.3,169.6 569.0,168.1 569.7,168.0 C570.4,167.9 572.0,168.6 572.7,169.5 C573.4,170.4 574.6,173.9 575.3,174.6 C576.0,175.3 577.3,175.5 577.8,174.6 C578.3,173.7 578.2,169.1 578.9,168.0 C579.6,166.9 581.6,166.2 582.9,166.0 C584.2,165.8 587.3,166.2 588.5,166.5 C589.7,166.8 590.6,168.4 591.6,168.5 C592.6,168.6 595.2,167.5 596.2,167.0 C597.2,166.5 599.3,165.1 599.2,164.4 C599.1,163.7 595.3,162.6 595.1,161.9 C594.9,161.2 597.9,160.0 597.7,158.8 C597.5,157.6 594.0,154.9 593.6,153.2 C593.2,151.5 594.5,147.6 594.6,146.1 C594.7,144.6 593.9,142.5 594.1,141.8 C594.3,141.1 596.3,141.3 596.1,140.8 C595.9,140.3 593.3,138.9 592.6,137.7 C591.9,136.5 591.2,133.0 590.5,131.6 C589.8,130.2 588.2,128.2 587.0,127.5 C585.8,126.8 582.1,126.7 581.4,126.0 C580.7,125.3 581.1,122.6 581.9,121.9 C582.7,121.2 586.6,121.1 587.5,120.4 C588.4,119.7 588.7,117.3 588.5,116.3 C588.3,115.3 586.1,113.7 586.0,112.8 C585.9,111.9 587.0,109.9 588.0,109.2 C589.0,108.5 592.1,107.7 593.6,107.7 C595.1,107.7 597.9,109.3 599.2,109.2 C600.5,109.1 602.3,108.3 603.3,106.7 C604.3,105.1 606.2,98.8 606.8,97.0 C607.4,95.2 607.1,93.6 607.8,92.9 C608.5,92.2 611.2,92.4 611.9,91.9 C612.6,91.4 612.9,89.0 613.4,88.8 C613.9,88.6 615.1,90.7 616.0,90.4 C616.9,90.1 618.6,87.8 620.0,86.8 C621.4,85.8 625.1,83.2 626.7,82.7 C628.3,82.2 630.7,83.1 632.3,82.7 C633.9,82.3 637.3,80.4 638.4,79.7 C639.5,79.0 640.2,77.6 640.9,77.7 C641.6,77.8 642.8,80.1 644.0,80.2 C645.2,80.3 648.3,78.8 649.6,78.7 C650.9,78.6 652.5,80.0 653.6,79.2 C654.7,78.4 656.6,73.9 657.7,72.6 C658.8,71.3 661.1,70.5 661.8,69.5 C662.5,68.5 663.7,66.5 663.3,65.4 C662.9,64.3 659.1,62.4 658.7,60.9 C658.3,59.4 660.2,55.6 660.3,54.2 C660.4,52.8 658.9,50.9 659.2,50.2 C659.5,49.5 662.1,49.3 662.8,48.7 C663.5,48.1 663.9,46.5 664.3,45.6 C664.7,44.7 665.3,42.5 665.5,42.0" stroke="#000" stroke-width="2.9"/>
<path d="M712.5,878.8 C712.8,879.0 716.5,882.8 717.0,882.9 C717.5,883.0 720.5,881.1 721.1,881.1 C721.7,881.1 726.7,882.9 727.6,882.9 C728.5,882.9 735.1,881.4 735.9,881.1 C736.7,880.8 741.3,877.6 741.9,877.0 C742.5,876.4 745.5,871.4 746.0,871.1 C746.5,870.8 750.8,870.9 751.3,871.1 C751.8,871.3 754.6,874.2 754.9,874.6 C755.2,875.0 755.9,877.9 756.1,878.2 C756.3,878.5 758.7,880.4 759.0,880.5 C759.3,880.6 761.4,879.1 762.0,879.3 C762.6,879.5 768.4,884.6 769.1,884.7 C769.8,884.8 774.1,881.3 774.6,881.2 C775.1,881.1 777.0,882.3 777.8,883.1 C778.6,883.9 787.3,894.1 788.4,894.9 C789.5,895.7 795.9,895.8 796.7,896.1 C797.5,896.5 802.0,900.3 802.6,900.9 C803.2,901.5 806.7,905.6 807.4,906.2 C808.1,906.8 813.8,911.2 814.5,911.5 C815.2,911.8 819.2,911.4 819.8,911.5 C820.4,911.6 823.8,913.3 824.5,913.9 C825.2,914.5 830.7,920.9 831.1,921.6 C831.5,922.3 832.0,925.4 832.2,925.7 C832.4,926.0 835.2,927.3 835.2,927.5 C835.2,927.7 832.6,929.2 832.2,929.3 C831.8,929.4 829.3,929.0 828.7,929.3 C828.1,929.6 822.6,934.5 822.2,935.2 C821.8,935.9 822.1,939.9 822.2,940.5 C822.3,941.1 823.5,944.3 824.0,944.7 C824.5,945.1 830.7,946.7 831.1,947.1 C831.5,947.5 831.3,951.4 831.7,951.8 C832.1,952.2 837.2,954.4 837.6,954.8 C838.0,955.2 838.2,958.2 838.8,958.3 C839.4,958.4 846.9,957.0 847.6,957.1 C848.3,957.2 849.6,960.4 850.0,960.7 C850.4,961.0 854.0,961.8 854.2,961.9" stroke="#000" stroke-width="2.9"/>
<path d="M854.2,961.9 C853.9,964.2 851.1,976.1 851.8,977.9 C852.5,979.7 857.3,974.8 858.9,974.9 C860.5,975.0 862.2,977.7 863.0,978.4 C863.8,979.1 864.6,978.3 864.2,979.6 C863.8,980.9 861.0,985.7 859.9,987.3 C858.8,988.9 857.1,989.6 856.3,990.9 C855.5,992.2 855.3,996.4 854.6,996.8 C853.9,997.2 852.9,995.2 851.6,993.9 C850.3,992.6 847.4,988.3 845.7,987.7 C844.0,987.1 840.6,988.4 839.7,989.7 C838.9,991.0 839.4,995.1 839.7,996.8 C840.0,998.5 840.6,1000.4 841.5,1001.6 C842.4,1002.8 845.3,1003.8 846.3,1005.1 C847.3,1006.4 847.4,1010.4 848.6,1011.0 C849.8,1011.6 853.3,1009.3 854.6,1009.3 C855.9,1009.3 856.8,1010.2 857.5,1011.0 C858.2,1011.8 859.6,1013.4 859.3,1015.2 C859.0,1017.0 855.3,1021.7 855.1,1023.5 C854.9,1025.3 856.8,1026.9 858.1,1028.2 C859.4,1029.5 862.4,1030.7 864.0,1032.4 C865.6,1034.1 868.1,1038.3 869.4,1040.1 C870.7,1041.9 871.9,1044.5 872.9,1044.8 C873.9,1045.1 875.4,1042.2 876.5,1042.4 C877.6,1042.6 879.7,1045.1 880.6,1046.0 C881.5,1046.9 882.7,1048.6 883.0,1049.0" stroke="#000" stroke-width="2.9"/>
<path d="M82.0,731.5 L85.3,735.1 L104.9,755.2 L104.3,759.3 L110.2,777.7 L120.3,781.8 L115.5,793.7 L112.0,796.1 L127.4,812.1 L126.8,821.5 L115.5,829.8 L126.2,838.7 L128.0,848.8 L130.9,850.5 L140.4,840.5 L151.1,840.1 L169.4,835.1 L177.7,830.4 L184.8,819.5 L195.5,820.3 L210.6,826.0 L220.1,840.7 L222.4,841.3 L229.0,827.1 L226.6,817.0 L235.5,808.7 L236.6,804.6 L243.8,798.0 L253.8,795.4 L259.7,799.2 L272.2,801.6 L280.5,808.1 L293.5,806.3 L298.8,803.4 L307.1,808.5 L316.6,805.1 L317.2,788.6 L326.7,785.2 L339.5,795.0 L352.5,799.8 L353.7,802.8" stroke="#000" stroke-width="2.9"/>
</g>
<g clip-path="url(#ax)">
<rect x="932" y="277" width="3" height="3" fill="#50547c"/>
<rect x="800.3" y="297.2" width="1.6" height="1.6" fill="#50547c"/>
<circle cx="829" cy="237.1" r="5.2" fill="#f01010" stroke="#000" stroke-width="1.1"/>
<g stroke="#000" stroke-width="1.1" fill="#000">
<path d="M429.3,374.2v8.6M425.2,378.5h8.2"/><circle cx="426.7" cy="378.5" r="0.95"/><circle cx="431.9" cy="378.5" r="0.95"/>
<path d="M539.7,494.2v8.6M535.6,498.5h8.2"/><circle cx="537.1" cy="498.5" r="0.95"/><circle cx="542.3" cy="498.5" r="0.95"/>
<path d="M610.3,717.2v8.6M606.2,721.5h8.2"/><circle cx="607.7" cy="721.5" r="0.95"/><circle cx="612.9" cy="721.5" r="0.95"/>
<path d="M467.5,844.3v8.6M463.4,848.6h8.2"/><circle cx="464.9" cy="848.6" r="0.95"/><circle cx="470.1" cy="848.6" r="0.95"/>
</g>
<text class="ct" transform="translate(424.2,368.0) scale(0.996,0.98)" text-anchor="middle">Wiltz</text>
<text class="ct" transform="translate(563.4,488.0) scale(0.996,0.98)" text-anchor="middle">Ettelbruck</text>
<text class="ct" transform="translate(611.4,711.0) scale(0.996,0.98)" text-anchor="middle">Findel</text>
<text class="ct" transform="translate(503.4,838.0) scale(0.996,0.98)" text-anchor="middle">Esch/Alzette</text>
</g>

<rect x="85.5" y="45.5" width="907.0" height="1001.0" fill="none" stroke="#000" stroke-width="1.11"/>
<text class="tk" transform="translate(213.90,1067.00) scale(0.975,1.070)" text-anchor="middle">5.6°E</text>
<text class="tk" transform="translate(342.90,1067.00) scale(0.975,1.070)" text-anchor="middle">5.8°E</text>
<text class="tk" transform="translate(472.90,1067.00) scale(0.975,1.070)" text-anchor="middle">6°E</text>
<text class="tk" transform="translate(602.90,1067.00) scale(0.975,1.070)" text-anchor="middle">6.2°E</text>
<text class="tk" transform="translate(731.90,1067.00) scale(0.975,1.070)" text-anchor="middle">6.4°E</text>
<text class="tk" transform="translate(861.90,1067.00) scale(0.975,1.070)" text-anchor="middle">6.6°E</text>
<text class="tk" transform="translate(77.60,101.00) scale(0.975,1.070)" text-anchor="end">50.25°N</text>
<text class="tk" transform="translate(77.60,252.00) scale(0.975,1.070)" text-anchor="end">50.1°N</text>
<text class="tk" transform="translate(77.60,403.00) scale(0.975,1.070)" text-anchor="end">49.95°N</text>
<text class="tk" transform="translate(77.60,553.00) scale(0.975,1.070)" text-anchor="end">49.8°N</text>
<text class="tk" transform="translate(77.60,703.00) scale(0.975,1.070)" text-anchor="end">49.65°N</text>
<text class="tk" transform="translate(77.60,853.00) scale(0.975,1.070)" text-anchor="end">49.5°N</text>
<text class="tk" transform="translate(77.60,1002.00) scale(0.975,1.070)" text-anchor="end">49.35°N</text>
<text class="tt" transform="translate(539.00,37.20) scale(1.000,1.012)" text-anchor="middle">10.11.2025 07:30 UTC</text>
<rect x="94.5" y="50.5" width="218" height="50" fill="#fff" stroke="#000" stroke-width="1.33"/>
<text class="tk" transform="translate(100.00,69.30) scale(1.000,1.060)">Product: 0.8° Reflectivity</text>
<text class="tk" transform="translate(100.00,90.30) scale(1.000,1.060)">Data: DWD</text>
<rect x="1050.5" y="95.5" width="45.0" height="901.0" fill="#E838EA"/>
<rect x="1050.5" y="127.0" width="45.0" height="869.5" fill="#FF68F8"/>
<rect x="1050.5" y="160.0" width="45.0" height="836.5" fill="#FFB4FF"/>
<rect x="1050.5" y="192.0" width="45.0" height="804.5" fill="#FFDCFF"/>
<rect x="1050.5" y="224.0" width="45.0" height="772.5" fill="#780000"/>
<rect x="1050.5" y="256.0" width="45.0" height="740.5" fill="#9C0000"/>
<rect x="1050.5" y="288.0" width="45.0" height="708.5" fill="#C00000"/>
<rect x="1050.5" y="320.0" width="45.0" height="676.5" fill="#E40000"/>
<rect x="1050.5" y="353.0" width="45.0" height="643.5" fill="#FF8000"/>
<rect x="1050.5" y="385.0" width="45.0" height="611.5" fill="#FF9C00"/>
<rect x="1050.5" y="417.0" width="45.0" height="579.5" fill="#FFB800"/>
<rect x="1050.5" y="449.0" width="45.0" height="547.5" fill="#FFD800"/>
<rect x="1050.5" y="481.0" width="45.0" height="515.5" fill="#AEB208"/>
<rect x="1050.5" y="514.0" width="45.0" height="482.5" fill="#447A0C"/>
<rect x="1050.5" y="546.0" width="45.0" height="450.5" fill="#086410"/>
<rect x="1050.5" y="578.0" width="45.0" height="418.5" fill="#0C7A10"/>
<rect x="1050.5" y="610.0" width="45.0" height="386.5" fill="#109414"/>
<rect x="1050.5" y="642.0" width="45.0" height="354.5" fill="#12A418"/>
<rect x="1050.5" y="674.0" width="45.0" height="322.5" fill="#12B81C"/>
<rect x="1050.5" y="707.0" width="45.0" height="289.5" fill="#14C820"/>
<rect x="1050.5" y="739.0" width="45.0" height="257.5" fill="#40D470"/>
<rect x="1050.5" y="771.0" width="45.0" height="225.5" fill="#64D6C0"/>
<rect x="1050.5" y="803.0" width="45.0" height="193.5" fill="#68C2DC"/>
<rect x="1050.5" y="835.0" width="45.0" height="161.5" fill="#5CA0C8"/>
<rect x="1050.5" y="867.0" width="45.0" height="129.5" fill="#4C7CB4"/>
<rect x="1050.5" y="900.0" width="45.0" height="96.5" fill="#4460A2"/>
<rect x="1050.5" y="932.0" width="45.0" height="64.5" fill="#5268A6"/>
<rect x="1050.5" y="964.0" width="45.0" height="32.5" fill="#6676AA"/>
<rect x="1050.5" y="95.5" width="45.0" height="901.0" fill="none" stroke="#000" stroke-width="1.11"/>
<line x1="1095.5" y1="996.50" x2="1100.7" y2="996.50" stroke="#000" stroke-width="1.11"/>
<text class="cb" transform="translate(1105.90,1006.30) scale(0.970,1.000)">0</text>
<line x1="1095.5" y1="867.50" x2="1100.7" y2="867.50" stroke="#000" stroke-width="1.11"/>
<text class="cb" transform="translate(1105.90,877.30) scale(0.970,1.000)">10</text>
<line x1="1095.5" y1="739.50" x2="1100.7" y2="739.50" stroke="#000" stroke-width="1.11"/>
<text class="cb" transform="translate(1105.90,749.30) scale(0.970,1.000)">20</text>
<line x1="1095.5" y1="610.50" x2="1100.7" y2="610.50" stroke="#000" stroke-width="1.11"/>
<text class="cb" transform="translate(1105.90,620.30) scale(0.970,1.000)">30</text>
<line x1="1095.5" y1="481.50" x2="1100.7" y2="481.50" stroke="#000" stroke-width="1.11"/>
<text class="cb" transform="translate(1105.90,491.30) scale(0.970,1.000)">40</text>
<line x1="1095.5" y1="352.50" x2="1100.7" y2="352.50" stroke="#000" stroke-width="1.11"/>
<text class="cb" transform="translate(1105.90,362.30) scale(0.970,1.000)">50</text>
<line x1="1095.5" y1="224.50" x2="1100.7" y2="224.50" stroke="#000" stroke-width="1.11"/>
<text class="cb" transform="translate(1105.90,234.30) scale(0.970,1.000)">60</text>
<line x1="1095.5" y1="95.50" x2="1100.7" y2="95.50" stroke="#000" stroke-width="1.11"/>
<text class="cb" transform="translate(1105.90,105.30) scale(0.970,1.000)">70</text>
<text class="cb" transform="translate(1169.00,549.00) rotate(-90) scale(1.000,1.050)" text-anchor="middle">dBZ</text>
</svg></body></html>
